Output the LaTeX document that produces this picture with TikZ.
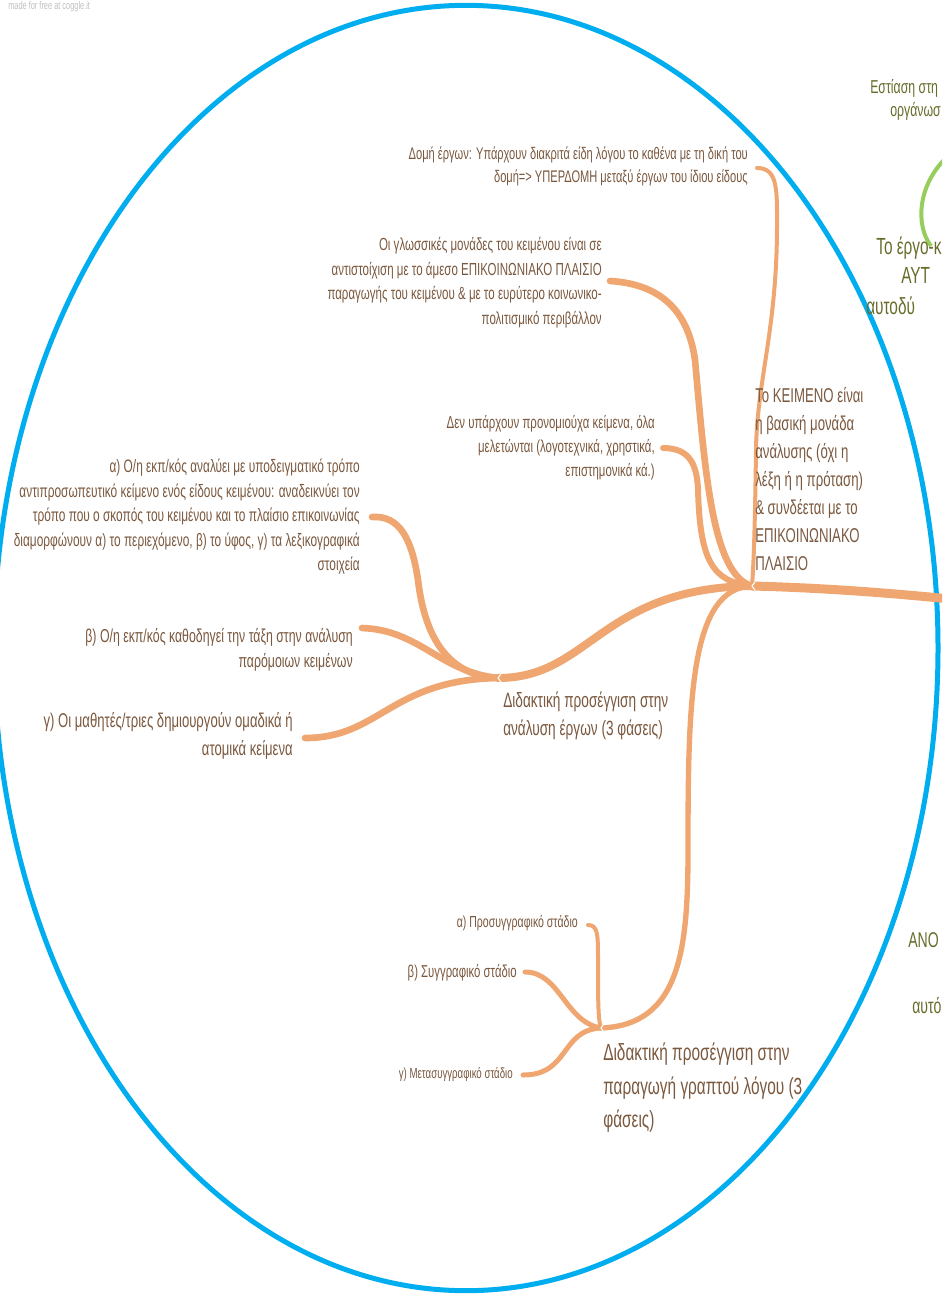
\documentclass[tikz,border=0pt]{standalone}
\usepackage{fontspec}
\setmainfont[FakeStretch=0.66]{Liberation Sans}
\usetikzlibrary{positioning}
\definecolor{cg_brown}{RGB}{122,88,62}
\definecolor{cg_orange}{RGB}{239,166,112}
\definecolor{cg_blue}{RGB}{0,174,239}
\definecolor{cg_olive}{RGB}{104,108,42}
\definecolor{cg_green}{RGB}{150,205,92}
\tikzset{
  branch/.style = {cg_orange, line cap=round},
  chev/.style   = {white, line width=0.8pt},
  lbl/.style    = {text=cg_brown, inner sep=0pt, align=right, anchor=north east},
  biglbl/.style = {text=cg_brown, inner sep=0pt, align=left, anchor=north west},
  side/.style   = {text=cg_olive, inner sep=0pt, anchor=north west}
}
\newcommand{\fs}[2]{\fontsize{#1}{#2}\selectfont}

\begin{document}
\begin{tikzpicture}[x=0.75pt, y=-0.75pt]
    \useasboundingbox (0,0) rectangle (942,1298);
    \clip (0,0) rectangle (942,1298);

    % Hubs and branch ends
    \coordinate (root)     at (752,586);
    \coordinate (anaHub)   at (498,678);
    \coordinate (grafHub)  at (601,1028);
    \coordinate (trunkEnd) at (950,599);
    \coordinate (domeEnd)  at (757,168);
    \coordinate (lingEnd)  at (610,281);
    \coordinate (denEnd)   at (663,448);
    \coordinate (aOneEnd)  at (372,517);
    \coordinate (bOneEnd)  at (362,628);
    \coordinate (gOneEnd)  at (305,738);
    \coordinate (aTwoEnd)  at (588,925);
    \coordinate (bTwoEnd)  at (525,972);
    \coordinate (gTwoEnd)  at (523,1075);

    % ----- Watermark -----
    \node[anchor=north west, inner sep=0pt, text=black!25, font=\fs{8.4}{10}] (mark) at (8,1) {made for free at coggle.it};

    % ----- Outer ellipse -----
    \draw[cg_blue, line width=3.75pt] (466,648) ellipse [x radius=354pt, y radius=482pt];

    % ----- Neighbouring (green) topics -----
    \node[side, font=\fs{14}{17}] (focA) at (870,79) {Εστίαση στη};
    \node[side, font=\fs{14}{17}] (focB) at (890,102) {οργάνωσ};
    \coordinate (arcA) at (946,158);
    \coordinate (arcB) at (931,246);
    \draw[cg_green, line width=3pt] (arcA) .. controls (918,185) and (915,225) .. (arcB);
    \node[side, font=\fs{17.5}{22}] (ergA) at (876,237) {Το έργο-κ};
    \node[side, font=\fs{17.5}{22}] (ergB) at (901,267) {ΑΥΤ};
    \node[side, font=\fs{17.5}{22}] (ergC) at (866,297) {αυτοδύ};
    \node[side, font=\fs{16}{20}] (anoA) at (908,932) {ΑΝΟ};
    \node[side, font=\fs{16}{20}] (anoB) at (912,997) {αυτό};

    % ----- Branches -----
    \draw[branch, line width=6.75pt] (root) .. controls (830,588) and (900,594) .. (trunkEnd);
    \draw[branch, line width=3pt] (domeEnd) .. controls (778,168) and (777,190) .. (777,225)
        .. controls (777,330) and (757,380) .. (756,450) .. controls (755,520) and (754,560) .. (root);
    \draw[branch, line width=5pt] (lingEnd) .. controls (660,284) and (688,310) .. (695,360)
        .. controls (705,470) and (712,575) .. (root);
    \draw[branch, line width=4.5pt] (denEnd) .. controls (690,448) and (697,465) .. (698,490)
        .. controls (700,560) and (712,582) .. (root);
    \draw[branch, line width=6pt] (anaHub) .. controls (590,678) and (600,588) .. (root);
    \draw[branch, line width=4pt] (grafHub) .. controls (680,1025) and (688,950) .. (688,850)
        .. controls (688,700) and (690,588) .. (root);

    % Analysis phases
    \draw[branch, line width=5pt] (aOneEnd) .. controls (400,515) and (412,540) .. (418,580)
        .. controls (425,640) and (450,676) .. (anaHub);
    \draw[branch, line width=5pt] (bOneEnd) .. controls (420,630) and (440,672) .. (anaHub);
    \draw[branch, line width=5pt] (gOneEnd) .. controls (380,738) and (390,680) .. (anaHub);

    % Writing phases
    \draw[branch, line width=3pt] (aTwoEnd) .. controls (598,925) and (598,935) .. (598,960)
        .. controls (598,1000) and (598,1020) .. (grafHub);
    \draw[branch, line width=3.75pt] (bTwoEnd) .. controls (560,972) and (565,1022) .. (grafHub);
    \draw[branch, line width=3.75pt] (gTwoEnd) .. controls (570,1075) and (560,1030) .. (grafHub);

    % hub marks
    \draw[chev] (root) ++(3,-4) -- ++(-3,4) -- ++(3,4);
    \draw[chev] (anaHub) ++(3,-4) -- ++(-3,4) -- ++(3,4);
    \draw[chev] (grafHub) ++(3,-4) -- ++(-3,4) -- ++(3,4);

    % ----- Labels -----
    \node[biglbl, font=\fs{15}{21}] (rootLbl) at (755,387)
        {Το ΚΕΙΜΕΝΟ είναι\\η βασική μονάδα\\ανάλυσης (όχι η\\λέξη ή η πρόταση)\\\& συνδέεται με το\\ΕΠΙΚΟΙΝΩΝΙΑΚΟ\\ΠΛΑΙΣΙΟ};
    \node[lbl, font=\fs{12.6}{17.25}] (domeLbl) at (748,147)
        {Δομή έργων: Υπάρχουν διακριτά είδη λόγου το καθένα με τη δική του\\δομή=> ΥΠΕΡΔΟΜΗ μεταξύ έργων του ίδιου είδους};
    \node[lbl, font=\fs{13.1}{18.5}] (lingLbl) at (602,237)
        {Οι γλωσσικές μονάδες του κειμένου είναι σε\\αντιστοίχιση με το άμεσο ΕΠΙΚΟΙΝΩΝΙΑΚΟ ΠΛΑΙΣΙΟ\\παραγωγής του κειμένου \& με το ευρύτερο κοινωνικο-\\πολιτισμικό περιβάλλον};
    \node[lbl, font=\fs{13}{18}] (denLbl) at (655,415)
        {Δεν υπάρχουν προνομιούχα κείμενα, όλα\\μελετώνται (λογοτεχνικά, χρηστικά,\\επιστημονικά κά.)};
    \node[lbl, font=\fs{13.5}{18.4}] (aOneLbl) at (360,459)
        {α) Ο/η εκπ/κός αναλύει με υποδειγματικό τρόπο\\αντιπροσωπευτικό κείμενο ενός είδους κειμένου: αναδεικνύει τον\\τρόπο που ο σκοπός του κειμένου και το πλαίσιο επικοινωνίας\\διαμορφώνουν α) το περιεχόμενο, β) το ύφος, γ) τα λεξικογραφικά\\στοιχεία};
    \node[lbl, font=\fs{14}{19}] (bOneLbl) at (353,628)
        {β) Ο/η εκπ/κός καθοδηγεί την τάξη στην ανάλυση\\παρόμοιων κειμένων};
    \node[lbl, font=\fs{14.9}{21}] (gOneLbl) at (293,712)
        {γ) Οι μαθητές/τριες δημιουργούν ομαδικά ή\\ατομικά κείμενα};
    \node[biglbl, font=\fs{15.5}{21}] (anaLbl) at (503,692)
        {Διδακτική προσέγγιση στην\\ανάλυση έργων (3 φάσεις)};
    \node[lbl, font=\fs{12}{14}] (aTwoLbl) at (578,915) {α) Προσυγγραφικό στάδιο};
    \node[lbl, font=\fs{12.9}{15}] (bTwoLbl) at (517,964) {β) Συγγραφικό στάδιο};
    \node[lbl, font=\fs{11}{13}] (gTwoLbl) at (513,1067) {γ) Μετασυγγραφικό στάδιο};
    \node[biglbl, font=\fs{17.5}{25}] (grafLbl) at (603,1043)
        {Διδακτική προσέγγιση στην\\παραγωγή γραπτού λόγου (3\\φάσεις)};
\end{tikzpicture}
\end{document}
